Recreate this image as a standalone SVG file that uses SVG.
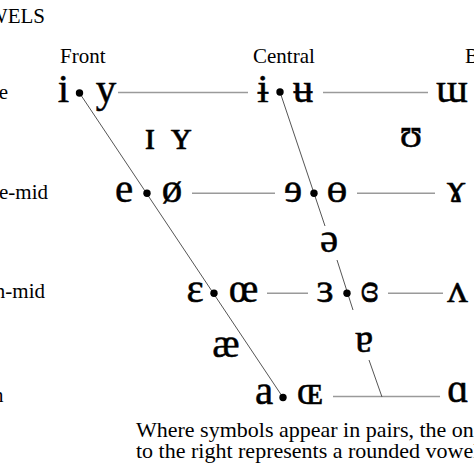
<svg xmlns="http://www.w3.org/2000/svg" width="474" height="474" viewBox="0 0 474 474">
<style>
text{font-family:"Liberation Serif","Tinos","DejaVu Serif",serif;fill:#000}
.lbl{font-size:21px}
.cap{font-size:22px}
.v{font-size:41px;text-anchor:middle;stroke:#000;stroke-width:0.5}
.h{stroke:#9a9a9a;stroke-width:1.6;fill:none}
.d{stroke:#555;stroke-width:1;fill:none}
.dot{fill:#000}
</style>
<rect width="474" height="474" fill="#fff"/>
<g id="title"><text class="lbl" x="45" y="23" text-anchor="end">VOWELS</text></g>
<g id="headers">
<text class="lbl" x="60" y="63">Front</text>
<text class="lbl" x="253" y="63">Central</text>
<text class="lbl" x="465" y="63">Back</text>
</g>
<g id="rowlabels">
<text class="lbl" x="8" y="99" text-anchor="end">Close</text>
<text class="lbl" x="48" y="199" text-anchor="end">Close-mid</text>
<text class="lbl" x="45" y="298" text-anchor="end">Open-mid</text>
<text class="lbl" x="3.5" y="402" text-anchor="end">Open</text>
</g>
<g id="connectors">
<line class="h" x1="118" y1="92.5" x2="248" y2="92.5"/>
<line class="h" x1="323" y1="92.5" x2="428" y2="92.5"/>
<line class="h" x1="192" y1="193.3" x2="275" y2="193.3"/>
<line class="h" x1="357" y1="193.3" x2="435" y2="193.3"/>
<line class="h" x1="267" y1="293.3" x2="308" y2="293.3"/>
<line class="h" x1="388" y1="293.3" x2="443" y2="293.3"/>
<line class="h" x1="333" y1="396.5" x2="440" y2="396.5"/>
<line class="d" x1="79.5" y1="93" x2="283" y2="397.5"/>
<line class="d" x1="280" y1="92" x2="325" y2="226"/>
<line class="d" x1="337" y1="260" x2="353" y2="310"/>
<line class="d" x1="369" y1="360" x2="382" y2="397"/>
</g>
<g id="close-front"><text class="v" x="63.5" y="101.5">i</text><circle class="dot" cx="79.5" cy="93" r="3.7"/><text class="v" x="106" y="101.5">y</text></g>
<g id="close-central"><text class="v" x="263" y="101.5">ɨ</text><circle class="dot" cx="280" cy="92" r="3.7"/><text class="v" x="303" y="101.5">ʉ</text></g>
<g id="close-back"><text class="v" x="452" y="101.5">ɯ</text></g>
<g id="near-close-front"><text class="v" x="150" y="149">ɪ</text><text class="v" x="181" y="149">ʏ</text></g>
<g id="near-close-back"><text class="v" x="411" y="147">ʊ</text></g>
<g id="close-mid-front"><text class="v" x="124" y="201.5">e</text><circle class="dot" cx="147" cy="193.3" r="3.7"/><text class="v" x="172" y="201.5">ø</text></g>
<g id="close-mid-central"><text class="v" x="293" y="201.5">ɘ</text><circle class="dot" cx="314" cy="193.3" r="3.7"/><text class="v" x="337" y="201.5">ɵ</text></g>
<g id="close-mid-back"><text class="v" x="456" y="201.5">ɤ</text></g>
<g id="mid-central"><text class="v" x="329" y="251.5">ə</text></g>
<g id="open-mid-front"><text class="v" x="195" y="302">ɛ</text><circle class="dot" cx="214" cy="293.3" r="3.7"/><text class="v" x="243.5" y="302">œ</text></g>
<g id="open-mid-central"><text class="v" x="325" y="302">ɜ</text><circle class="dot" cx="347" cy="293.3" r="3.7"/><text class="v" x="369.5" y="302">ɞ</text></g>
<g id="open-mid-back"><text class="v" x="457.5" y="302">ʌ</text></g>
<g id="near-open-front"><text class="v" x="226" y="357">æ</text></g>
<g id="near-open-central"><text class="v" x="364" y="352">ɐ</text></g>
<g id="open-front"><text class="v" x="264" y="404">a</text><circle class="dot" cx="283" cy="397.5" r="3.7"/><text class="v" x="310" y="404">ɶ</text></g>
<g id="open-back"><text class="v" x="458" y="402">ɑ</text></g>
<g id="caption">
<text class="cap" x="136" y="437">Where symbols appear in pairs, the one</text>
<text class="cap" x="136" y="458">to the right represents a rounded vowel.</text>
</g>
</svg>
